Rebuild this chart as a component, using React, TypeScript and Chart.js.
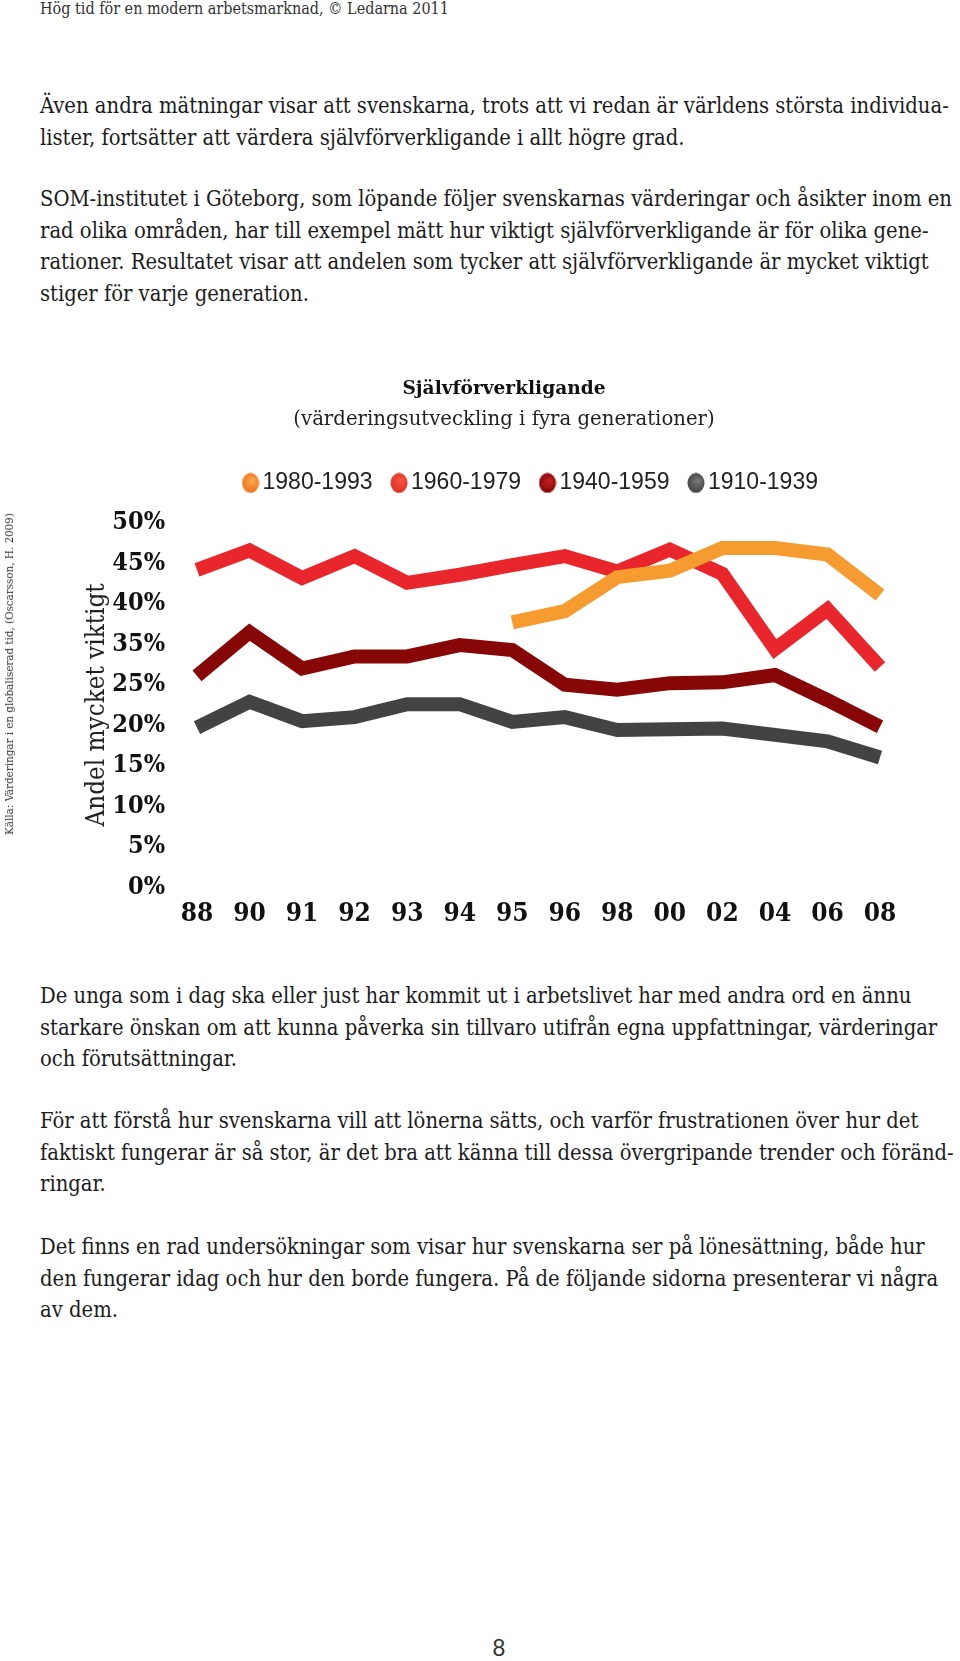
import React, { useEffect, useRef } from "react";
import { Chart, registerables } from "chart.js";

Chart.register(...registerables);

// ---- data ----
const years = ["88", "90", "91", "92", "93", "94", "95", "96", "98", "00", "02", "04", "06", "08"];
const seriesNames = ["1980-1993", "1960-1979", "1940-1959", "1910-1939"];
// values in axis units (axis tick positions 0,5,...,45 carry the labels below)
const gen1980 = [null, null, null, null, null, null, 32.7, 34.1, 38.3, 39.1, 41.9, 41.9, 41.1, 36.1];
const gen1960 = [39.2, 41.6, 38.2, 40.9, 37.6, 38.6, 39.8, 40.9, 39.0, 41.7, 38.7, 29.4, 34.3, 27.2];
const gen1940 = [26.1, 31.5, 27.0, 28.5, 28.5, 29.9, 29.3, 25.0, 24.4, 25.2, 25.3, 26.2, 23.1, 19.8];
const gen1910 = [19.7, 22.9, 20.5, 21.0, 22.6, 22.6, 20.4, 21.0, 19.4, 19.5, 19.6, 18.8, 18.0, 16.0];
const yTickLabels = ["0%", "5%", "10%", "15%", "20%", "25%", "35%", "40%", "45%", "50%"];

const chartTitle = "Självförverkligande";
const chartSubtitle = "(värderingsutveckling i fyra generationer)";
const yAxisTitle = "Andel mycket viktigt";
const sourceNote = "Källa: Värderingar i en globaliserad tid, (Oscarsson, H. 2009)";
const headerText = "Hög tid för en modern arbetsmarknad, © Ledarna 2011";
const pageNumber = "8";

const paraTop = [
  "Även andra mätningar visar att svenskarna, trots att vi redan är världens största individua-",
  "lister, fortsätter att värdera självförverkligande i allt högre grad.",
];
const paraSom = [
  "SOM-institutet i Göteborg, som löpande följer svenskarnas värderingar och åsikter inom en",
  "rad olika områden, har till exempel mätt hur viktigt självförverkligande är för olika gene-",
  "rationer. Resultatet visar att andelen som tycker att självförverkligande är mycket viktigt",
  "stiger för varje generation.",
];
const paraUnga = [
  "De unga som i dag ska eller just har kommit ut i arbetslivet har med andra ord en ännu",
  "starkare önskan om att kunna påverka sin tillvaro utifrån egna uppfattningar, värderingar",
  "och förutsättningar.",
];
const paraForsta = [
  "För att förstå hur svenskarna vill att lönerna sätts, och varför frustrationen över hur det",
  "faktiskt fungerar är så stor, är det bra att känna till dessa övergripande trender och föränd-",
  "ringar.",
];
const paraFinns = [
  "Det finns en rad undersökningar som visar hur svenskarna ser på lönesättning, både hur",
  "den fungerar idag och hur den borde fungera. På de följande sidorna presenterar vi några",
  "av dem.",
];

const SERIF_C = "'DejaVu Serif Condensed', 'DejaVu Serif', serif";
const SERIF = "'DejaVu Serif', serif";
const SANS = "'Liberation Sans', Arial, sans-serif";

function makeDot(light: string, dark: string): HTMLCanvasElement {
  const cv = document.createElement("canvas");
  cv.width = 18;
  cv.height = 21;
  const g = cv.getContext("2d")!;
  const grad = g.createRadialGradient(11, 8, 1, 9, 10.5, 11);
  grad.addColorStop(0, light);
  grad.addColorStop(1, dark);
  g.fillStyle = grad;
  g.beginPath();
  g.ellipse(9, 10.5, 8.5, 10, 0, 0, Math.PI * 2);
  g.fill();
  return cv;
}

const shiftPlugin = {
  id: "shiftBlocks",
  afterLayout(chart: any) {
    if (chart.legend) chart.legend.left = 108;
    (chart.boxes || []).forEach((b: any) => {
      if (b && b.options && (b.options.text === chartTitle || b.options.text === chartSubtitle)) {
        b.left = 48;
      }
    });
  },
};

function Paragraph({ lines, top }: { lines: string[]; top: number }) {
  return (
    <div style={{ position: "absolute", left: 40, top, fontSize: 21.8, lineHeight: "31.7px" }}>
      {lines.map((l, i) => (
        <div key={i} style={{ whiteSpace: "nowrap" }}>{l}</div>
      ))}
    </div>
  );
}

export default function App() {
  const ref = useRef<HTMLCanvasElement>(null);

  useEffect(() => {
    if (!ref.current) return;
    const common = {
      borderWidth: 14,
      pointRadius: 0,
      pointHoverRadius: 0,
      tension: 0,
      borderJoinStyle: "miter" as const,
      borderCapStyle: "butt" as const,
      fill: false,
      spanGaps: false,
    };
    const chart = new Chart(ref.current, {
      type: "line",
      data: {
        labels: years,
        datasets: [
          { ...common, label: seriesNames[0], data: gen1980, borderColor: "#F59B2F", backgroundColor: "#F59B2F", pointStyle: makeDot("#F9A84A", "#EE6A1E") },
          { ...common, label: seriesNames[1], data: gen1960, borderColor: "#E8262B", backgroundColor: "#E8262B", pointStyle: makeDot("#F4553F", "#DD2A22") },
          { ...common, label: seriesNames[2], data: gen1940, borderColor: "#870707", backgroundColor: "#870707", pointStyle: makeDot("#C0201E", "#7A0505") },
          { ...common, label: seriesNames[3], data: gen1910, borderColor: "#434345", backgroundColor: "#434345", pointStyle: makeDot("#777779", "#3E3E40") },
        ],
      },
      options: {
        animation: false,
        responsive: true,
        maintainAspectRatio: false,
        events: [],
        layout: { padding: 0 },
        plugins: {
          title: {
            display: true,
            text: chartTitle,
            color: "#111",
            font: { family: SERIF, size: 18.6, weight: "bold", lineHeight: 1.2 },
            padding: { top: 27.8, bottom: 0 },
          },
          subtitle: {
            display: true,
            text: chartSubtitle,
            color: "#222",
            font: { family: SERIF, size: 19.7, weight: "normal", lineHeight: 1.2 },
            padding: { top: 8.2, bottom: 13.5 },
          },
          legend: {
            display: true,
            position: "top",
            align: "center",
            labels: {
              usePointStyle: true,
              boxWidth: 1,
              boxHeight: 10,
              padding: 26,
              color: "#222",
              font: { family: SANS, size: 23 },
            },
          },
          tooltip: { enabled: false },
        },
        scales: {
          x: {
            type: "category",
            offset: false,
            grid: { display: false, drawTicks: false },
            border: { display: false },
            ticks: {
              padding: 12,
              autoSkip: false,
              maxRotation: 0,
              color: "#111",
              font: { family: SERIF_C, size: 26, weight: "bold", lineHeight: 1.2 },
            },
            afterFit: (s: any) => { s.height = 53; },
          },
          xTop: {
            type: "linear",
            position: "top",
            display: true,
            grid: { display: false, drawTicks: false },
            border: { display: false },
            ticks: { display: false },
            afterFit: (s: any) => { s.height = 18.5; },
          },
          y: {
            type: "linear",
            position: "left",
            min: 0,
            max: 45,
            grid: { display: false, drawTicks: false },
            border: { display: false },
            ticks: {
              stepSize: 5,
              padding: 32,
              color: "#111",
              font: { family: SERIF_C, size: 25, weight: "bold", lineHeight: 1.2 },
              callback: (v: any) => yTickLabels[Math.round(Number(v) / 5)] ?? "",
            },
            title: {
              display: true,
              text: yAxisTitle,
              color: "#222",
              font: { family: SERIF_C, size: 25.8, weight: "normal", lineHeight: 1.2 },
              padding: { top: 82, bottom: 0 },
            },
            afterFit: (s: any) => { s.width = 197; },
          },
          yRight: {
            type: "linear",
            position: "right",
            display: true,
            grid: { display: false, drawTicks: false },
            border: { display: false },
            ticks: { display: false },
            afterFit: (s: any) => { s.width = 80; },
          },
        },
      } as any,
      plugins: [shiftPlugin],
    });
    return () => chart.destroy();
  }, []);

  return (
    <div
      style={{
        position: "absolute",
        left: 0,
        top: 0,
        width: 960,
        height: 1661,
        overflow: "hidden",
        background: "#ffffff",
        color: "#1c1c1c",
        fontFamily: SERIF_C,
      }}
    >
      <div style={{ position: "absolute", left: 40, top: 0, fontSize: 16, lineHeight: "17px", whiteSpace: "nowrap", color: "#333" }}>
        {headerText}
      </div>
      <Paragraph lines={paraTop} top={90} />
      <Paragraph lines={paraSom} top={183} />
      <div style={{ position: "absolute", left: 0, top: 350, width: 960, height: 590 }}>
        <canvas ref={ref} />
      </div>
      <div
        style={{
          position: "absolute",
          left: 9,
          top: 674,
          transform: "translate(-50%, -50%) rotate(-90deg)",
          whiteSpace: "nowrap",
          fontSize: 11.5,
          lineHeight: "14px",
          color: "#333",
        }}
      >
        {sourceNote}
      </div>
      <Paragraph lines={paraUnga} top={980} />
      <Paragraph lines={paraForsta} top={1105} />
      <Paragraph lines={paraFinns} top={1231} />
      <div style={{ position: "absolute", left: 499, top: 1648, transform: "translate(-50%, -50%)", fontFamily: SANS, fontSize: 23, color: "#333" }}>
        {pageNumber}
      </div>
    </div>
  );
}
